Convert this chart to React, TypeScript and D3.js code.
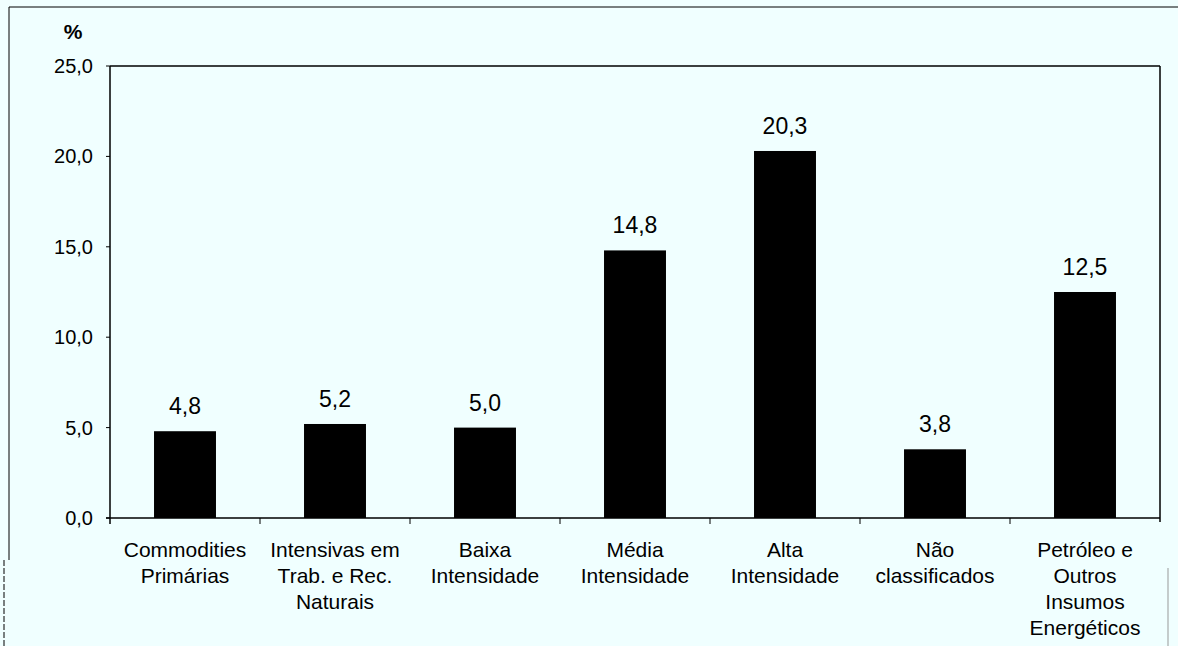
import React from "react";
import * as d3 from "d3";

const categories = [
  "Commodities Primárias",
  "Intensivas em Trab. e Rec. Naturais",
  "Baixa Intensidade",
  "Média Intensidade",
  "Alta Intensidade",
  "Não classificados",
  "Petróleo e Outros Insumos Energéticos",
];
const categoryLines: string[][] = [
  ["Commodities", "Primárias"],
  ["Intensivas em", "Trab. e Rec.", "Naturais"],
  ["Baixa", "Intensidade"],
  ["Média", "Intensidade"],
  ["Alta", "Intensidade"],
  ["Não", "classificados"],
  ["Petróleo e", "Outros", "Insumos", "Energéticos"],
];
const values = [4.8, 5.2, 5.0, 14.8, 20.3, 3.8, 12.5];
const yTicks = [0, 5, 10, 15, 20, 25];

const W = 1178;
const H = 646;
const left = 110;
const right = 1160;
const top = 66;
const bottom = 518;
const font = "'Liberation Sans', Arial, Helvetica, sans-serif";
const fmt = (v: number) => v.toFixed(1).replace(".", ",");

export default function App() {
  const x = d3.scaleBand<string>().domain(categories).range([left, right]).paddingInner(0.587).paddingOuter(0.2935);
  const y = d3.scaleLinear().domain([0, 25]).range([bottom, top]);
  const band = d3.scaleBand<string>().domain(categories).range([left, right]);

  return (
    <svg width={W} height={H} style={{ position: "absolute", left: 0, top: 0, background: "#f0ffff" }}>
      <rect x={0} y={0} width={W} height={H} fill="#f0ffff" />
      {/* outer frame */}
      <line x1={9} y1={7} x2={W} y2={7} stroke="#000" strokeWidth={1} />
      <line x1={9} y1={7} x2={9} y2={560} stroke="#000" strokeWidth={1} />
      <line x1={4} y1={560} x2={4} y2={H} stroke="#000" strokeWidth={1} strokeDasharray="6 2" />
      <line x1={1168} y1={568} x2={1168} y2={H} stroke="#999" strokeWidth={1} />

      {/* plot border */}
      <line x1={left} y1={top} x2={right} y2={top} stroke="#000" strokeWidth={1.5} />
      <line x1={right} y1={top} x2={right} y2={bottom + 4} stroke="#000" strokeWidth={1.5} />
      <line x1={left} y1={top} x2={left} y2={bottom + 6} stroke="#000" strokeWidth={1.5} />
      <line x1={left - 4} y1={bottom} x2={right} y2={bottom} stroke="#000" strokeWidth={1.5} />

      {/* y ticks */}
      {yTicks.map((t) => (
        <g key={t}>
          <line x1={left - 4} x2={left} y1={y(t)} y2={y(t)} stroke="#000" strokeWidth={1} />
          <text x={93} y={y(t)} dy="0.35em" textAnchor="end" fontFamily={font} fontSize={20} fill="#000">
            {fmt(t)}
          </text>
        </g>
      ))}
      <text x={73} y={39} textAnchor="middle" fontFamily={font} fontSize={21} fontWeight="bold" fill="#000">%</text>

      {/* x ticks */}
      {categories.slice(1).map((c) => (
        <line key={c} x1={band(c)!} x2={band(c)!} y1={bottom} y2={bottom + 6} stroke="#000" strokeWidth={1} />
      ))}

      {/* bars */}
      {categories.map((c, i) => (
        <g key={c}>
          <rect x={x(c)!} y={y(values[i])} width={x.bandwidth()} height={bottom - y(values[i])} fill="#000" />
          <text
            x={x(c)! + x.bandwidth() / 2}
            y={y(values[i]) - 17}
            textAnchor="middle"
            fontFamily={font}
            fontSize={23}
            fill="#000"
          >
            {fmt(values[i])}
          </text>
          {categoryLines[i].map((ln, j) => (
            <text
              key={j}
              x={band(c)! + band.bandwidth() / 2}
              y={557 + j * 26}
              textAnchor="middle"
              fontFamily={font}
              fontSize={21}
              fill="#000"
            >
              {ln}
            </text>
          ))}
        </g>
      ))}
    </svg>
  );
}
